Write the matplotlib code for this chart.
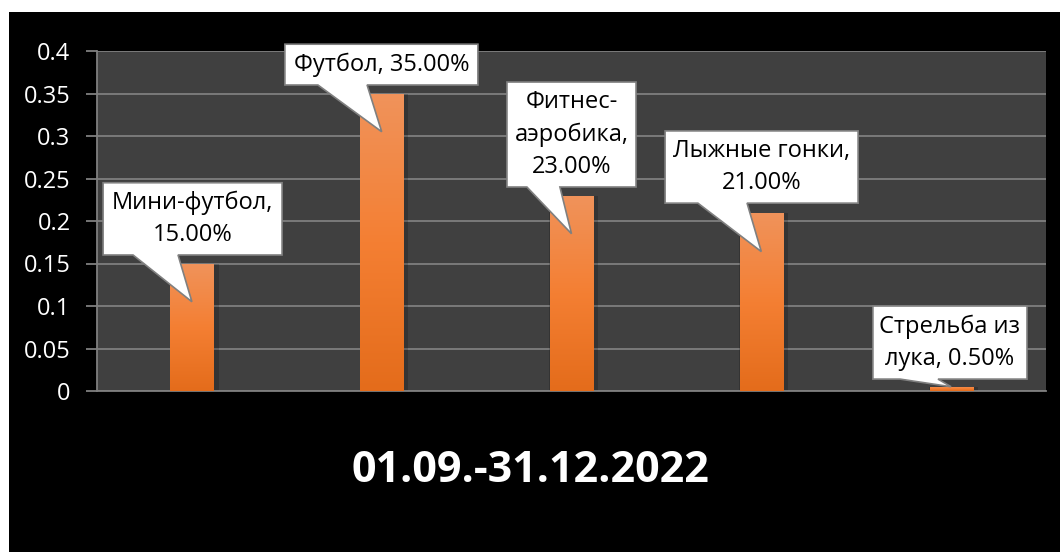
import numpy as np
import matplotlib
matplotlib.use("Agg")
import matplotlib.pyplot as plt
from matplotlib.patches import Rectangle, Polygon
from matplotlib.colors import LinearSegmentedColormap

# data
sports = ["Мини-футбол", "Футбол", "Фитнес-\nаэробика", "Лыжные гонки", "Стрельба из\nлука"]
shares = [0.15, 0.35, 0.23, 0.21, 0.005]
yticks = [0, 0.05, 0.1, 0.15, 0.2, 0.25, 0.3, 0.35, 0.4]
title = "01.09.-31.12.2022"

# label texts as they are wrapped in the callouts
label_texts = ["Мини-футбол,\n15.00%", "Футбол, 35.00%", "Фитнес-\nаэробика,\n23.00%",
               "Лыжные гонки,\n21.00%", "Стрельба из\nлука, 0.50%"]

# callout layout, relative to each bar: box x0, x1, y0, y1, pointer base left/right, tip drop
callouts = [
    (-0.468, 0.475, 0.160, 0.245, -0.31, -0.073, 0.045),
    (-0.510, 0.507, 0.360, 0.408, -0.336, -0.077, 0.045),
    (-0.340, 0.340, 0.240, 0.3635, -0.235, -0.061, 0.045),
    (-0.507, 0.510, 0.221, 0.306, -0.334, -0.075, 0.046),
    (-0.412, 0.400, 0.014, 0.100, -0.269, -0.069, 0.0),
]

plt.rcParams['font.family'] = ['Open Sans', 'DejaVu Sans']

fig = plt.figure(figsize=(10.6, 5.52), dpi=100)
fig.patch.set_facecolor("white")
fig.patches.append(Rectangle((9 / 1060, 0), 1 - 9 / 1060, 1 - 12 / 552,
                             transform=fig.transFigure, facecolor="black",
                             edgecolor="none", zorder=-10))

ax = fig.add_axes([97 / 1060, 161 / 552, (1046 - 97) / 1060, 340 / 552])
ax.set_facecolor("#404040")

x = np.arange(len(sports))
bar_w = 0.227

# soft shadow
ax.bar(x + 0.012, shares, width=bar_w + 0.03, color="black", alpha=0.18, zorder=2)
bars = ax.bar(x, shares, width=bar_w, color="#f28034", zorder=3)

cmap = LinearSegmentedColormap.from_list("bar", ["#e46c1b", "#f47f33", "#f0935b"])
grad = np.linspace(0, 1, 256).reshape(-1, 1)
for b, v in zip(bars, shares):
    im = ax.imshow(grad, cmap=cmap, origin="lower", aspect="auto",
                   extent=[b.get_x(), b.get_x() + b.get_width(), 0, v], zorder=3)
    im.set_clip_path(b)

ax.set_xlim(-0.5, len(sports) - 0.5)
ax.set_ylim(0, 0.4)
ax.set_yticks(yticks)
ax.set_yticklabels([f"{t:g}" for t in yticks])
ax.set_xticks([])

ax.grid(axis="y", color="#7f7f7f", linewidth=1.3, zorder=1)
ax.set_axisbelow(True)
for s in ["top", "right"]:
    ax.spines[s].set_visible(False)
for s in ["left", "bottom"]:
    ax.spines[s].set_color("#7f7f7f")
    ax.spines[s].set_linewidth(1.3)
ax.tick_params(axis="y", colors="#7f7f7f", length=8, width=1.3, pad=11,
               labelcolor="white", labelsize=17)

# callouts
for i, (txt, v, c) in enumerate(zip(label_texts, shares, callouts)):
    x0, x1, y0, y1, bl, br, drop = c
    tip = (i, v - drop)
    pts = [(i + x0, y0), (i + bl, y0), tip, (i + br, y0), (i + x1, y0),
           (i + x1, y1), (i + x0, y1)]
    ax.add_patch(Polygon(pts, closed=True, facecolor="white", edgecolor="#808080",
                         linewidth=1.2, zorder=5, clip_on=False))
    ax.text(i + (x0 + x1) / 2, (y0 + y1) / 2, txt, ha="center", va="center",
            fontsize=17, color="black", linespacing=1.45, zorder=6)

fig.text(0.5, 1 - 470 / 552, title, ha="center", va="center", color="white",
         fontsize=31, fontweight="bold")

fig.savefig("out.png", dpi=100, facecolor=fig.get_facecolor())
